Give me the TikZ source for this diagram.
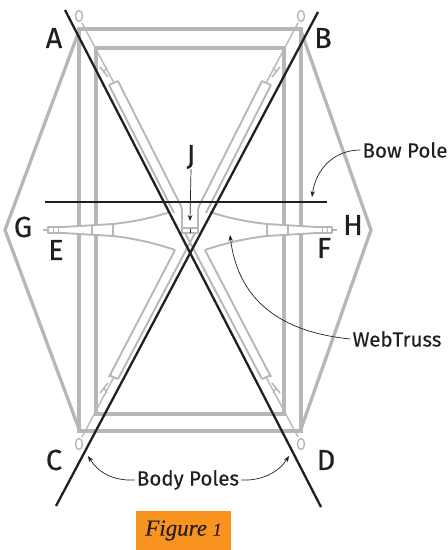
\documentclass[tikz,border=0pt]{standalone}
\usepackage{fontspec}
\newfontfamily\labelfont{Fira Sans}[FakeBold=0.35]
\newfontfamily\figfont{Liberation Serif}[FakeBold=0.4]
\usetikzlibrary{arrows.meta}
\definecolor{polegray}{HTML}{B6B7B9}
\definecolor{inkblack}{HTML}{231F20}
\definecolor{figorange}{HTML}{F7931E}
\tikzset{
    frameline/.style={draw=polegray, line width=3.3pt, line join=miter},
    webline/.style={draw=polegray, line width=1.9pt, line join=round},
    blackpole/.style={draw=inkblack, line width=2.3pt},
    letterlabel/.style={font=\fontsize{29}{29}\selectfont\labelfont, text=inkblack, inner sep=0pt},
    calllabel/.style={font=\fontsize{20.5}{20.5}\selectfont\labelfont, text=inkblack, inner sep=2pt},
    callout/.style={draw=inkblack, line width=0.7pt, -{Stealth[length=6pt,width=4.5pt]}}
}
\begin{document}
\begin{tikzpicture}[x=1pt, y=-1pt]
    \useasboundingbox (0,0) rectangle (448,550);
    % frame and fly outline
    \draw[frameline] (79,29) rectangle (301,431);
    \draw[frameline] (96,48) rectangle (284,414);
    \draw[frameline] (79,31) -- (5,230) -- (79,429);
    \draw[frameline] (301,31) -- (371,230) -- (301,429);
    % one quarter of the web truss, four times
    \foreach \sx/\sy in {1/1,-1/1,1/-1,-1/-1} {
        \begin{scope}[shift={(190,230)}, xscale=\sx, yscale=\sy]
            \draw[webline, line width=1.4pt] (-111,-214) ellipse [x radius=3.5, y radius=5.5];
            \draw[webline, line width=1.4pt] (-108,-207) -- (-76,-147);
            \draw[webline, line width=1.6pt] (-90,-163) -- (-82,-153);
            \draw[webline, line width=1.3pt] (-83,-163) -- (-86,-158);
            \draw[webline] (-81,-145) -- (-72,-149);
            \fill[white] (-77,-6) -- (-127,-3) -- (-127,0) -- (-77,0) -- cycle;
            \draw[webline] (-77,-6) -- (-77,0);
            \draw[webline] (-98,-4.5) -- (-98,0);
            \draw[webline] (-77,-6) -- (-127,-3) -- (-142,-3) -- (-142,0);
            \draw[webline, line width=1pt] (-132,-3) -- (-132,0);
            \draw[webline, line width=1pt] (-137,-3) -- (-137,0);
            \draw[webline, line width=2pt] (-142,0) -- (-147,0);
        \end{scope}
    }
    % sleeves and straps near the middle
    \foreach \sx in {1,-1} {
        \begin{scope}[shift={(190,230)}, xscale=\sx]
            \draw[webline, rounded corners=3pt] (-72,-149) -- (-8,-22) -- (-8,-2);
            \draw[webline] (-81,-145) -- (-16,-17);
            \draw[webline] (-20,-18) .. controls (-38,-12) and (-58,-8) .. (-77,-6);
            \draw[webline] (-81,147) -- (-15,20);
            \draw[webline] (-72,149) -- (5,3);
            \draw[webline] (-15,20) .. controls (-35,13) and (-58,8) .. (-77,6);
            \draw[webline] (-8,-2) -- (-8,3) -- (0,3);
            \draw[webline] (-8,-2) -- (0,-2);
        \end{scope}
    }
    % black poles
    \draw[blackpole] (65,10) -- (321,507);
    \draw[blackpole] (318,12) -- (56,506);
    \draw[blackpole, line width=2.6pt] (45,202) -- (327,202);
    % letters
    \node[letterlabel] (labelA) at (54,38) {A};
    \node[letterlabel] (labelB) at (323,38) {B};
    \node[letterlabel] (labelC) at (54,460) {C};
    \node[letterlabel] (labelD) at (326,460) {D};
    \node[letterlabel] (labelE) at (56,250) {E};
    \node[letterlabel] (labelF) at (324,248) {F};
    \node[letterlabel] (labelG) at (23,227) {G};
    \node[letterlabel] (labelH) at (353,225) {H};
    \node[letterlabel] (labelJ) at (191,157) {J};
    % callouts
    \node[calllabel] (bowpole) at (405,150) {Bow Pole};
    \node[calllabel] (webtruss) at (397,339) {WebTruss};
    \node[calllabel] (bodypoles) at (188,480) {Body Poles};
    \coordinate (tipbow) at (312,197);
    \coordinate (tipweb) at (230,235);
    \coordinate (tipleft) at (88,456);
    \coordinate (tipright) at (289,456);
    \coordinate (tipj) at (190,221);
    \draw[callout] (bowpole.west) .. controls (335,150) and (316,168) .. (tipbow);
    \draw[callout] (webtruss.west) .. controls (280,332) and (238,300) .. (tipweb);
    \draw[callout] (bodypoles.west) .. controls (112,481) and (98,472) .. (tipleft);
    \draw[callout] (bodypoles.east) .. controls (262,481) and (279,472) .. (tipright);
    \draw[callout] (labelJ.south) -- (tipj);
    \draw[draw=inkblack, line width=0.7pt] (190,228.5) -- (190,233);
    % caption
    \node[fill=figorange, minimum width=95pt, minimum height=39pt, inner sep=0pt, text=inkblack,
        font=\fontsize{23}{23}\selectfont\figfont\itshape] (caption) at (183.5,530.5) {Figure {\fontsize{18}{18}\selectfont 1}};
\end{tikzpicture}
\end{document}
